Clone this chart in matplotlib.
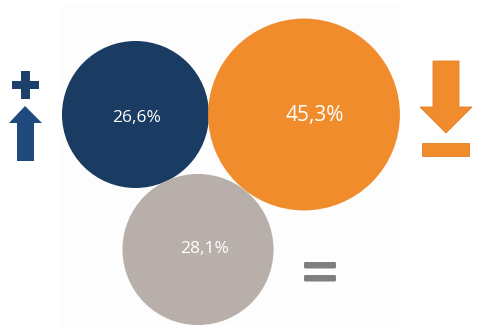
import numpy as np
import matplotlib
matplotlib.use("Agg")
import matplotlib.pyplot as plt
from matplotlib.patches import Circle, Rectangle, Polygon, FancyBboxPatch

# data
labels = ["26,6%", "45,3%", "28,1%"]
values = [26.6, 45.3, 28.1]
colors = ["#1a3b62", "#f08c2b", "#b8afab"]

# layout (pixel coords, y down)
centers = [(135.5, 114.5), (304, 114.5), (198, 249.5)]
label_pos = [(136.5, 118), (315, 115.5), (205, 249)]
font_sizes = [12.5, 15, 12.5]
scale = 73.5 / np.sqrt(values[0])   # circle area ~ value

fig = plt.figure(figsize=(4.8, 3.29), dpi=100)
ax = fig.add_axes([0, 0, 1, 1])
ax.set_xlim(0, 480)
ax.set_ylim(329, 0)
ax.set_aspect("equal")
ax.axis("off")

# faint background panel
ax.add_patch(Rectangle((61, 4), 339, 322, facecolor="#fdfdfd", edgecolor="none", zorder=0))

for (cx, cy), (tx, ty), v, c, lab, fs in zip(centers, label_pos, values, colors, labels, font_sizes):
    r = scale * np.sqrt(v)
    ax.add_patch(Circle((cx, cy), r, facecolor=c, edgecolor="none", zorder=2))
    ax.text(tx, ty, lab, color="white", fontsize=fs, family="Open Sans",
            ha="center", va="center", zorder=3)

# plus sign + up arrow (navy)
navy = "#1d406b"
ax.add_patch(Rectangle((21, 71), 9, 28, facecolor=navy, edgecolor="none"))
ax.add_patch(Rectangle((12, 81), 27, 8, facecolor=navy, edgecolor="none"))
ax.add_patch(Polygon([(25, 106), (42, 123), (34, 123), (34, 161), (17, 161), (17, 123), (9, 123)],
                     closed=True, facecolor="#1f4a7e", edgecolor="none"))

# down arrow + bar (orange)
orange = "#f08c2b"
ax.add_patch(Polygon([(433, 61), (459, 61), (459, 107), (472, 107), (446, 133), (420, 107), (433, 107)],
                     closed=True, facecolor=orange, edgecolor="#e07f22", lw=0.6))
ax.add_patch(Rectangle((422, 143), 47, 13, facecolor=orange, edgecolor="#e07f22", lw=0.6))

# equals sign (gray)
for y0 in (262, 275):
    ax.add_patch(FancyBboxPatch((304, y0), 32, 6.5, boxstyle="round,pad=0,rounding_size=1.5",
                                facecolor="#7f7f7f", edgecolor="none"))

fig.savefig("out.png", dpi=100)
